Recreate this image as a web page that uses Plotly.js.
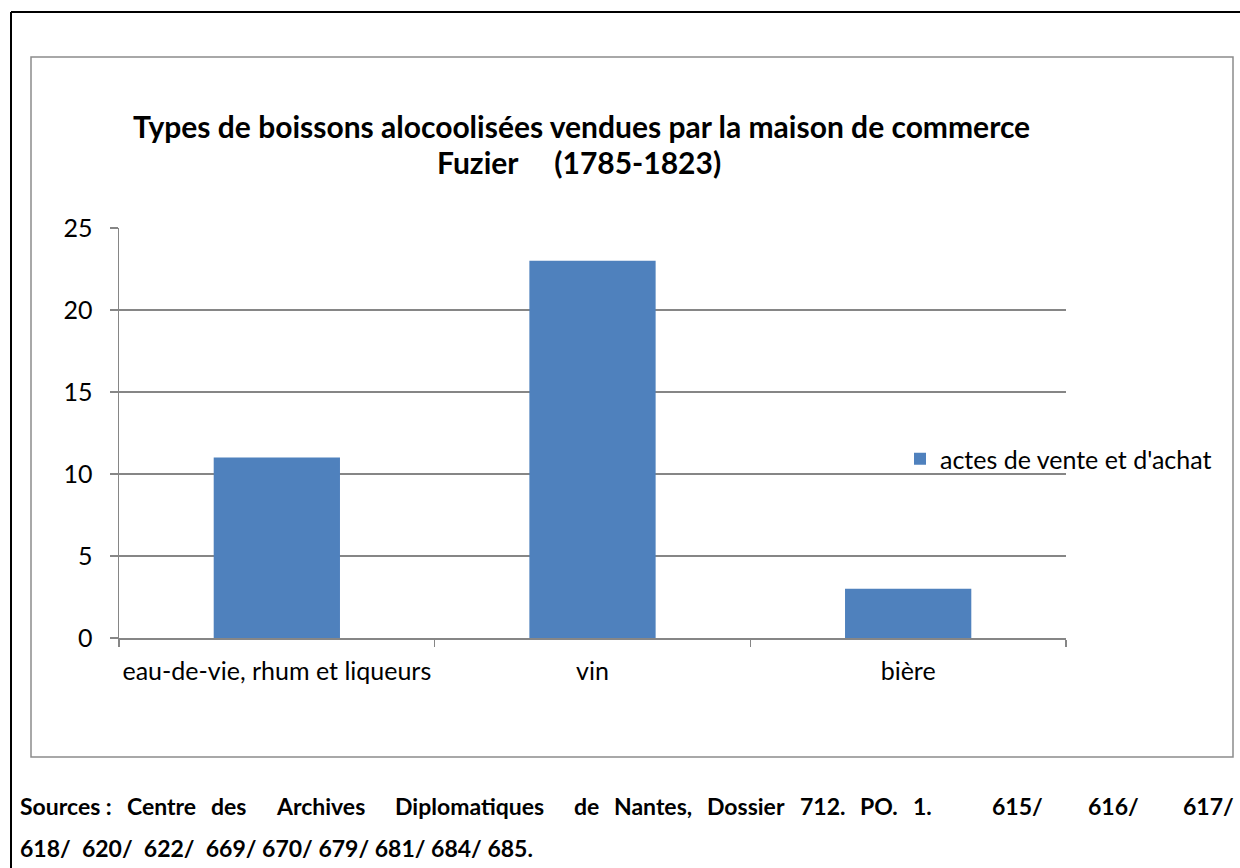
<!DOCTYPE html>
<html>
<head>
<meta charset="utf-8">
<script src="https://cdn.plot.ly/plotly-3.0.1.min.js"></script>
<style>
html,body{margin:0;padding:0;background:#fff;}
#chart{width:1240px;height:868px;}
</style>
</head>
<body>
<div id="chart"></div>
<script>
const categories = ["eau-de-vie, rhum et liqueurs", "vin", "bière"];
const seriesName = "actes de vente et d'achat";
const values = [11, 23, 3];
const yTicks = [0, 5, 10, 15, 20, 25];
const titleLine1 = "Types de boissons alocoolisées vendues par la maison de commerce";
const titleLine2 = "Fuzier\u00A0\u00A0\u00A0\u00A0\u00A0(1785-1823)";
const sourceLine1 = "Sources\u00A0: Centre des  Archives  Diplomatiques  de Nantes, Dossier 712. PO. 1.    615/   616/   617/";
const sourceLine2 = "618/\u00A0\u00A0620/\u00A0\u00A0622/\u00A0\u00A0669/ 670/ 679/ 681/ 684/ 685.";

// layout geometry (pixels)
const W = 1240, H = 868;
const L = 119, R = 1066, T = 228, B = 638;
const px = x => (x - L) / (R - L);
const py = y => (B - y) / (B - T);

const FONT = "Lato, 'Open Sans', sans-serif";
const TITLE_SIZE = 30, FOOT_SIZE = 23, TICK_SIZE = 25;

// justify the first source line (all spaces stretched equally, as a word processor does)
const cv = document.createElement('canvas').getContext('2d');
cv.font = "bold " + FOOT_SIZE + "px Lato";
const parts = sourceLine1.split(/( +)/).filter(s => s.length);
const words = [], spaceUnits = [];
parts.forEach(p => { if (p[0] === ' ') spaceUnits[words.length - 1] = p.length; else words.push(p); });
const widths = words.map(t => cv.measureText(t).width);
const lineStart = 18, lineEnd = 1232;
const totalUnits = spaceUnits.reduce((a, b) => a + (b || 0), 0);
const unit = (lineEnd - lineStart - widths.reduce((a, b) => a + b, 0)) / totalUnits;

const annotations = [];
annotations.push({text: titleLine1, xref: 'paper', yref: 'paper', x: px(581), y: py(126), xanchor: 'center', yanchor: 'middle', showarrow: false, font: {family: FONT, size: TITLE_SIZE, color: '#000', weight: 'bold'}});
annotations.push({text: titleLine2, xref: 'paper', yref: 'paper', x: px(579), y: py(162), xanchor: 'center', yanchor: 'middle', showarrow: false, font: {family: FONT, size: TITLE_SIZE, color: '#000', weight: 'bold'}});
let cx = lineStart;
words.forEach((t, i) => {
  annotations.push({text: t, xref: 'paper', yref: 'paper', x: px(cx), y: py(806), xanchor: 'left', yanchor: 'middle', showarrow: false, font: {family: FONT, size: FOOT_SIZE, color: '#000', weight: 'bold'}});
  cx += widths[i] + (spaceUnits[i] || 0) * unit;
});
annotations.push({text: sourceLine2, xref: 'paper', yref: 'paper', x: px(lineStart), y: py(848), xanchor: 'left', yanchor: 'middle', showarrow: false, font: {family: FONT, size: FOOT_SIZE, color: '#000', weight: 'bold'}});

const shapes = [
  {type: 'rect', xref: 'paper', yref: 'paper', x0: px(31), x1: px(1233), y0: py(57), y1: py(757), line: {color: '#8c8c8c', width: 1.5}, layer: 'below'},
  {type: 'line', xref: 'paper', yref: 'paper', x0: px(11), x1: px(1245), y0: py(12), y1: py(12), line: {color: '#000', width: 2}},
  {type: 'line', xref: 'paper', yref: 'paper', x0: px(11), x1: px(11), y0: py(12), y1: py(875), line: {color: '#000', width: 2}}
];

const trace = {
  type: 'bar',
  x: categories,
  y: values,
  name: seriesName,
  marker: {color: '#4F81BD', line: {color: '#4F81BD', width: 0}},
  showlegend: true
};

const layout = {
  width: W, height: H,
  margin: {l: L, r: W - R, t: T, b: H - B, pad: 0},
  paper_bgcolor: '#fff', plot_bgcolor: '#fff',
  font: {family: FONT, color: '#000'},
  bargap: 0.6,
  showlegend: true,
  legend: {x: px(900), y: py(459), xanchor: 'left', yanchor: 'middle', bgcolor: 'rgba(0,0,0,0)', font: {family: FONT, size: TICK_SIZE, color: '#000'}, itemwidth: 30},
  xaxis: {
    type: 'category',
    showline: true, linecolor: '#868686', linewidth: 1.5,
    ticks: 'outside', tickson: 'boundaries', ticklen: 7, tickcolor: '#868686', tickwidth: 1.5,
    showgrid: false, zeroline: false,
    tickangle: 0,
    ticklabelstandoff: 10,
    tickfont: {family: FONT, size: TICK_SIZE, color: '#000'},
    automargin: false
  },
  yaxis: {
    range: [0, 25], tickvals: yTicks, ticktext: yTicks.map(String),
    showline: true, linecolor: '#868686', linewidth: 1.5,
    ticks: 'outside', ticklen: 8, tickcolor: '#868686', tickwidth: 1.5,
    showgrid: true, gridcolor: '#868686', gridwidth: 1.5,
    zeroline: false,
    ticklabelstandoff: 12,
    tickfont: {family: FONT, size: TICK_SIZE, color: '#000'},
    automargin: false
  },
  annotations: annotations,
  shapes: shapes
};

Plotly.newPlot('chart', [trace], layout, {staticPlot: true, displayModeBar: false});
</script>
</body>
</html>
